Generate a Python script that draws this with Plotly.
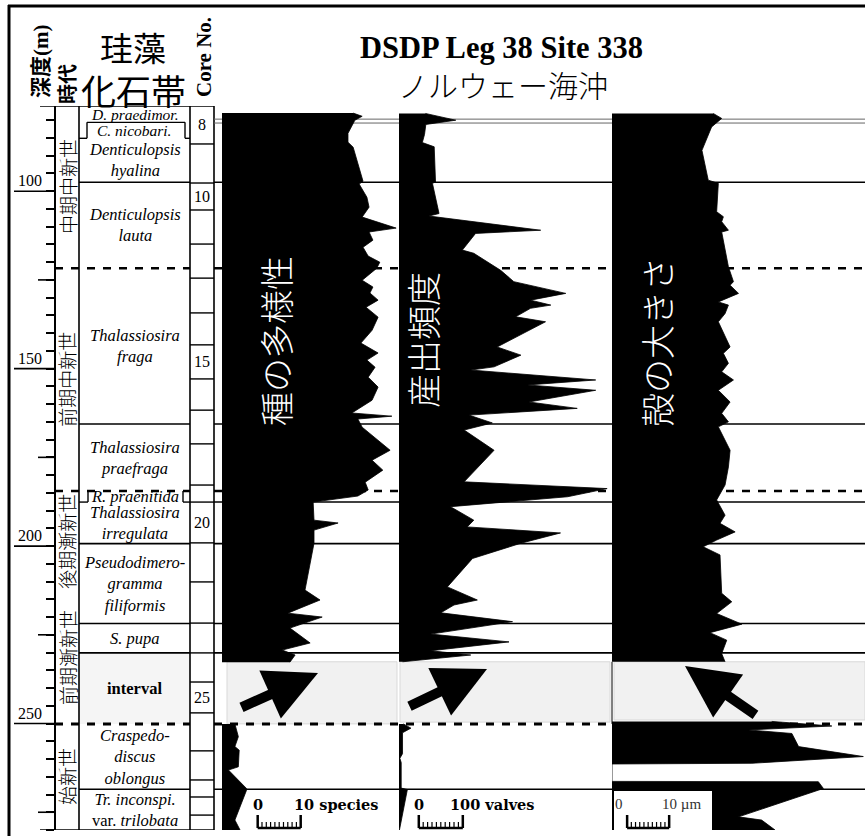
import plotly.graph_objects as go

W, H = 865, 836


def px(x):
    return x / W


def py(y):
    return 1 - y / H


# ---------------- data ----------------
DEPTH_TOP = 76.0
DEPTH_BOTTOM = 280.0
DEPTH_MAJOR = [100, 150, 200, 250]
DEPTH_MID = [125, 175, 225, 275]

# species diversity (depth m, number of species)
diversity_upper = [
    (78.0, 30.5), (78.9, 32.6), (80.0, 30.9), (83.7, 29.3), (86.2, 29.3), (87.6, 30.5),
    (97.2, 32.8), (98.0, 31.9), (101.7, 33.7), (104.5, 34.2), (107.3, 32.6), (110.4, 40.5),
    (111.5, 34.2), (113.8, 35.1), (115.8, 32.8), (118.3, 34.0), (120.0, 36.7), (121.7, 36.0),
    (125.1, 32.6), (127.0, 35.1), (128.7, 34.4), (130.7, 36.3), (132.7, 33.5), (135.5, 36.3),
    (139.2, 34.9), (142.8, 32.3), (145.6, 36.3), (147.6, 33.7), (149.6, 35.6), (152.4, 34.0),
    (155.2, 36.3), (158.9, 34.9), (162.5, 30.2), (163.4, 39.5), (164.2, 31.6), (166.5, 32.6),
    (173.0, 39.1), (175.8, 34.9), (178.6, 37.4), (182.0, 33.3), (184.2, 34.0), (185.9, 31.6),
    (187.6, 21.2), (192.7, 21.4), (193.5, 27.0), (195.5, 21.4), (199.2, 21.4), (212.4, 19.3),
    (215.2, 22.8), (218.9, 15.3), (220.0, 23.3), (223.1, 15.8), (227.3, 20.5), (229.3, 14.0),
    (230.7, 17.0), (232.7, 15.8),
]
diversity_lower = [
    (250.1, 3.0), (253.7, 3.8), (256.5, 3.0), (257.5, 4.0), (262.2, 3.8), (263.1, 1.5),
    (268.3, 5.7), (268.8, 5.7), (277.2, 3.0), (280.0, 4.2),
]

# abundance (depth m, valves)
abundance_upper = [
    (78.1, 60), (80.0, 129), (81.2, 61), (84.0, 58), (86.3, 53), (87.5, 80), (97.4, 83),
    (97.8, 76), (106.3, 91), (107.0, 68), (111.0, 322), (111.9, 174), (116.6, 144),
    (117.5, 170), (122.3, 231), (125.5, 261), (128.8, 379), (130.7, 299), (132.1, 345),
    (133.0, 299), (135.4, 265), (136.8, 333), (143.9, 223), (146.2, 277), (149.5, 216),
    (150.4, 163), (153.2, 447), (154.6, 292), (156.1, 447), (159.4, 295), (161.2, 405),
    (163.1, 159), (165.3, 212), (167.3, 148), (173.0, 216), (181.9, 148), (183.8, 473),
    (186.1, 383), (188.9, 117), (192.7, 170), (194.6, 155), (196.3, 367), (199.2, 277),
    (203.5, 167), (211.5, 110), (215.2, 178), (216.6, 125), (218.8, 95), (221.3, 258),
    (224.8, 72), (227.0, 250), (229.5, 72), (230.7, 163), (232.6, 8),
]
abundance_lower = [
    (250.1, 10), (251.3, 27), (252.6, 8), (258.5, 8), (259.8, 2), (261.0, 5), (268.2, 5),
    (268.6, 19), (280.0, 1),
]

# valve size (depth m, micrometre)
size_upper = [
    (78.1, 24.1), (79.5, 26.1), (81.9, 23.7), (88.5, 21.4), (96.9, 22.9), (97.8, 25.3),
    (105.8, 24.9), (107.2, 26.5), (108.6, 26.1), (111.0, 27.7), (111.5, 26.1), (121.3, 27.7),
    (125.5, 28.9), (126.5, 28.1), (128.8, 30.1), (131.2, 25.3), (132.1, 27.7), (134.5, 26.9),
    (136.8, 25.3), (143.9, 28.1), (145.7, 26.5), (148.5, 27.7), (150.9, 26.1), (153.2, 28.9),
    (156.1, 25.3), (159.4, 28.1), (162.6, 26.1), (165.0, 27.7), (166.4, 25.3), (173.0, 28.1),
    (177.7, 27.7), (182.8, 26.9), (187.0, 24.9), (191.3, 26.9), (193.6, 25.7), (196.0, 29.3),
    (198.3, 24.9), (200.2, 21.7), (202.5, 25.7), (213.3, 26.1), (215.7, 28.5), (219.0, 24.9),
    (222.0, 30.9), (224.4, 23.3), (226.5, 27.3), (230.3, 26.1), (232.6, 26.9),
]
size_lower = [
    (249.4, 38.0), (250.7, 52.3), (251.8, 32.5), (252.8, 42.8), (256.5, 44.4), (259.3, 59.8),
    (261.2, 33.3), (261.4, 0.0), (266.3, 0.0), (266.4, 49.1), (268.3, 50.3), (276.3, 30.1),
    (277.2, 35.6), (280.0, 38.8),
]

SPECIES_MAX = 40.7
VALVES_MAX = 479.5
SIZE_MAX = 60.2

# diatom zones
zone_bounds = [76.0, 80.6, 85.1, 97.5, 121.7, 165.6, 184.5, 187.6, 199.3, 221.8,
               230.1, 250.1, 268.5, 280.0]
zone_labels = [
    "<i>D. praedimor.</i>", "<i>C. nicobari.</i>", "<i>Denticulopsis<br>hyalina</i>",
    "<i>Denticulopsis<br>lauta</i>", "<i>Thalassiosira<br>fraga</i>",
    "<i>Thalassiosira<br>praefraga</i>", "<i>R. praenitida</i>",
    "<i>Thalassiosira<br>irregulata</i>", "<i>Pseudodimero-<br>gramma<br>filiformis</i>",
    "<i>S. pupa</i>", "<b>interval</b>", "<i>Craspedo-<br>discus<br>oblongus</i>",
    "<i>Tr. inconspi.</i><br>var. <i>trilobata</i>",
]
solid_bounds = [97.5, 165.6, 199.3, 221.8, 230.1, 268.5]
dashed_bounds = [121.7, 184.5, 250.1]

# epochs
era_bounds = [76.0, 121.7, 184.5, 213.0, 250.1, 280.0]
era_labels = ["中期中新世", "前期中新世", "後期漸新世", "前期漸新世", "始新世"]

# cores
core_bounds = [76.0, 86.7, 97.7, 105.3, 114.9, 124.5, 134.3, 143.3, 152.9, 161.7, 171.2,
               182.8, 187.6, 199.1, 210.1, 221.7, 230.1, 238.3, 247.0, 257.7, 265.9,
               270.7, 275.8, 280.0]
FIRST_CORE = 8
core_labelled = [8, 10, 15, 20, 25]

# ---------------- figure ----------------
fig = go.Figure()

for data, ax in [(diversity_upper, "x"), (diversity_lower, "x"),
                 (abundance_upper, "x2"), (abundance_lower, "x2"),
                 (size_upper, "x3"), (size_lower, "x3")]:
    fig.add_trace(go.Scatter(
        x=[v for d, v in data], y=[d for d, v in data], mode="lines",
        line=dict(color="black", width=0.8), fill="tozerox", fillcolor="black",
        xaxis=ax, yaxis="y", hoverinfo="skip", showlegend=False))

shapes = []


def hline(x0, x1, d, width=1.6, dash=None, color="black", layer="below"):
    ln = dict(color=color, width=width)
    if dash:
        ln["dash"] = dash
    shapes.append(dict(type="line", xref="paper", yref="y", x0=px(x0), x1=px(x1),
                       y0=d, y1=d, line=ln, layer=layer))


def vline(x, d0, d1, width=1.6, color="black", layer="below"):
    shapes.append(dict(type="line", xref="paper", yref="y", x0=px(x), x1=px(x),
                       y0=d0, y1=d1, line=dict(color=color, width=width), layer=layer))


# frame
shapes.append(dict(type="line", xref="paper", yref="paper", x0=px(9), x1=px(9),
                   y0=py(5), y1=0, line=dict(color="black", width=3)))
shapes.append(dict(type="line", xref="paper", yref="paper", x0=px(8), x1=1,
                   y0=py(6), y1=py(6), line=dict(color="black", width=3)))

# interval shading
shapes.append(dict(type="rect", xref="paper", yref="y", x0=px(79), x1=px(190),
                   y0=zone_bounds[10], y1=zone_bounds[11], fillcolor="#f5f5f5",
                   line=dict(width=0), layer="below"))
for x0, x1, d1 in [(227, 397, 250.1), (400, 610, 249.6), (614, 865, 249.0)]:
    shapes.append(dict(type="rect", xref="paper", yref="y", x0=px(x0), x1=px(x1),
                       y0=232.6, y1=d1, fillcolor="#f1f1f1",
                       line=dict(width=1, color="#d9d9d9"), layer="below"))
vline(612, 232.6, 250.1, width=1)

# column lines
for x in [79, 190, 214]:
    vline(x, DEPTH_TOP, DEPTH_BOTTOM)
hline(40, 214, DEPTH_TOP)
hline(40, 214, DEPTH_BOTTOM)

# zone boundaries
for d in solid_bounds:
    hline(79, 190, d)
    hline(214, 865, d)
for d in dashed_bounds:
    w = 3 if d == 250.1 else 2.4
    hline(55, 190, d, width=w, dash="8px,8px")
    hline(214, 865, d, width=w, dash="8px,8px")
# R. praenitida tab
hline(214, 865, zone_bounds[7])
vline(88, zone_bounds[6], zone_bounds[7], width=1.4)
vline(183, zone_bounds[6], zone_bounds[7], width=1.4)
hline(79, 88, zone_bounds[7], width=1.4)
hline(183, 190, zone_bounds[7], width=1.4)
# C. nicobari tab
hline(87, 185, zone_bounds[1], width=1.4)
vline(87, zone_bounds[1], zone_bounds[2], width=1.4)
vline(185, zone_bounds[1], zone_bounds[2], width=1.4)
hline(79, 87, zone_bounds[2], width=1.4)
hline(185, 190, zone_bounds[2], width=1.4)
hline(214, 865, zone_bounds[1] - 0.9, width=1, color="#666666")
hline(214, 865, zone_bounds[1] + 0.2, width=1, color="#666666")

# cores
for d in core_bounds[1:-1]:
    hline(190, 214, d, width=1.4)

# depth ticks
for d in DEPTH_MID:
    hline(38, 55, d, width=1.6)
for d in DEPTH_MAJOR:
    hline(14, 55, d, width=1.6)


# scale bars
def scale_bar(xref, start, step, n, base=828, tall=13, short=6):
    shapes.append(dict(type="line", xref=xref, yref="paper", x0=start, x1=start + step * n,
                       y0=py(base), y1=py(base), line=dict(color="black", width=2.5),
                       layer="above"))
    for k in range(n + 1):
        h = tall if k in (0, n) else short
        w = 2.5 if k in (0, n) else 1.2
        shapes.append(dict(type="line", xref=xref, yref="paper", x0=start + step * k,
                           x1=start + step * k, y0=py(base), y1=py(base - h),
                           line=dict(color="black", width=w), layer="above"))


shapes.append(dict(type="rect", xref="paper", yref="paper", x0=px(614), x1=px(712),
                   y0=py(831), y1=py(791), fillcolor="white", line=dict(width=0),
                   layer="above"))
SPECIES_BAR_START, VALVES_BAR_START, SIZE_BAR_START = 8.3, 45.0, 3.6
scale_bar("x", SPECIES_BAR_START, 1.0, 10)
scale_bar("x2", VALVES_BAR_START, 10.0, 10)
scale_bar("x3", SIZE_BAR_START, 1.0, 10)

ann = []
SER = "Liberation Serif"
JP = "Noto Sans CJK JP"


def text(x, y, s, size, yref="paper", family=SER, color="black", angle=0,
         xanchor="center", yanchor="middle", xshift=0, yshift=0, weight=None, xref="paper"):
    f = dict(family=family, size=size, color=color)
    if weight:
        f["weight"] = weight
    ann.append(dict(x=x, y=y, xref=xref, yref=yref, text=s, showarrow=False, font=f,
                    textangle=angle, xanchor=xanchor, yanchor=yanchor,
                    xshift=xshift, yshift=yshift))


# titles
text(px(501), py(48), "<b>DSDP Leg 38 Site 338</b>", 30.5)
text(px(503), py(84), "ノルウェー海沖", 30, family=JP, weight=300)

# left headers
text(px(39), py(62), "<b>深度</b><span style='font-family:Liberation Serif'><b>(m)</b></span>",
     21, family=JP, angle=-90)
text(px(67), py(84), "<b>時代</b>", 20, family=JP, angle=-90)
text(px(133), py(47), "珪藻", 33, family=JP)
text(px(133), py(89), "化石帯", 35, family=JP)
text(px(204), py(57), "<b>Core No.</b>", 21, angle=-90)

# depth labels
for d in DEPTH_MAJOR:
    text(px(30), d, str(d), 16, yref="y", yanchor="bottom", yshift=0)

# zone labels
for i, lab in enumerate(zone_labels):
    mid = (zone_bounds[i] + zone_bounds[i + 1]) / 2
    size = 15.5 if i < 2 else 16.5
    text(px(134.5), mid, lab, size, yref="y")

# era labels
for i, lab in enumerate(era_labels):
    mid = (era_bounds[i] + era_bounds[i + 1]) / 2
    text(px(67), mid, lab, 19, yref="y", family=JP, angle=-90, weight=300)

# core labels
for c in core_labelled:
    i = c - FIRST_CORE
    mid = (core_bounds[i] + core_bounds[i + 1]) / 2
    text(px(202), mid, str(c), 16, yref="y")

# panel titles
text(px(275), py(341), "種の多様性", 34, family=JP, color="white", angle=-90, weight=300)
text(px(422), py(340), "産出頻度", 34, family=JP, color="white", angle=-90, weight=300)
text(px(656), py(342), "殻の大きさ", 34, family=JP, color="white", angle=-90, weight=300)

# scale bar labels
BAR_FONT = "DejaVu Serif"
text(SPECIES_BAR_START, py(804), "<b>0</b>", 14.5, xref="x", family=BAR_FONT)
text(SPECIES_BAR_START + 10, py(804), "<b>10 species</b>", 14.5, xref="x", family=BAR_FONT,
     xanchor="left", xshift=-9)
text(VALVES_BAR_START, py(804), "<b>0</b>", 14.5, xref="x2", family=BAR_FONT)
text(VALVES_BAR_START + 100, py(804), "<b>100 valves</b>", 14.5, xref="x2", family=BAR_FONT,
     xanchor="left", xshift=-15)
text(SIZE_BAR_START, py(804), "0", 15, xref="x3", xshift=-8, color="#333333")
text(SIZE_BAR_START + 10, py(804), "10 µm", 15, xref="x3", xanchor="left", xshift=-9,
     color="#333333")

# arrows
for hx, hy, ax, ay in [(318, 673, -78, 35), (487, 669, -79, 38), (685, 666, 72, 50)]:
    ann.append(dict(x=px(hx), y=py(hy), xref="paper", yref="paper", text="", showarrow=True,
                    ax=ax, ay=ay, arrowhead=2, arrowsize=1.05, arrowwidth=10,
                    arrowcolor="black"))

fig.update_layout(
    width=W, height=H, margin=dict(l=0, r=0, t=0, b=0),
    paper_bgcolor="white", plot_bgcolor="rgba(0,0,0,0)",
    font=dict(family=SER, color="black"),
    showlegend=False,
    xaxis=dict(domain=[px(222), px(397)], range=[0, SPECIES_MAX], visible=False, anchor="y"),
    xaxis2=dict(domain=[px(399), px(610)], range=[0, VALVES_MAX], visible=False, anchor="y"),
    xaxis3=dict(domain=[px(612), 1.0], range=[0, SIZE_MAX], visible=False, anchor="y"),
    yaxis=dict(domain=[py(830), py(106)], range=[DEPTH_BOTTOM, DEPTH_TOP], anchor="free",
               position=px(55), showline=True, linecolor="black", linewidth=1.6,
               ticks="outside", tickmode="linear", tick0=0, dtick=5, ticklen=8,
               tickwidth=1.5, tickcolor="black", showticklabels=False, showgrid=False,
               zeroline=False),
    shapes=shapes, annotations=ann,
)

fig.write_html("out.html", config={"displayModeBar": False},
               post_script="document.body.style.margin='0';document.body.style.padding='0';")
